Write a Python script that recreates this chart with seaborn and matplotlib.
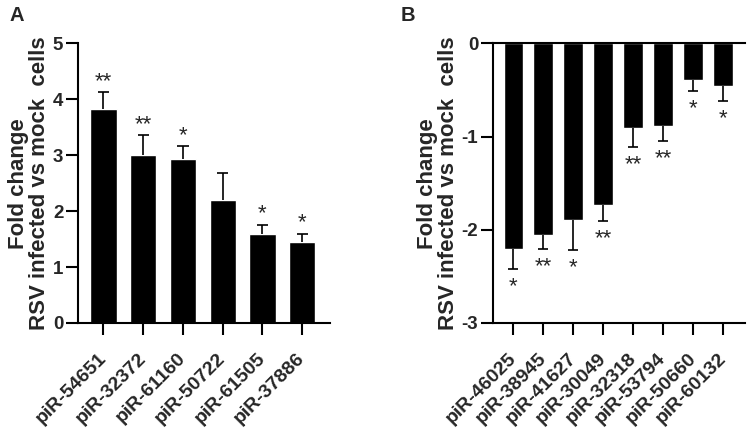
import numpy as np
import pandas as pd
import seaborn as sns
import matplotlib.pyplot as plt
from matplotlib.transforms import ScaledTranslation

# panel A: up-regulated piRNAs
up_names = ['piR-54651', 'piR-32372', 'piR-61160', 'piR-50722', 'piR-61505', 'piR-37886']
up_fc = [3.82, 3.00, 2.93, 2.20, 1.59, 1.44]
up_err = [0.31, 0.36, 0.24, 0.49, 0.17, 0.16]
up_sig = ['**', '**', '*', '', '*', '*']

# panel B: down-regulated piRNAs
down_names = ['piR-46025', 'piR-38945', 'piR-41627', 'piR-30049',
              'piR-32318', 'piR-53794', 'piR-50660', 'piR-60132']
down_fc = [-2.21, -2.06, -1.90, -1.73, -0.91, -0.89, -0.39, -0.46]
down_err = [0.21, 0.15, 0.32, 0.18, 0.20, 0.16, 0.12, 0.16]
down_sig = ['*', '**', '*', '**', '**', '**', '*', '*']

ylab = 'Fold change\nRSV infected vs mock  cells'

sns.set_style('ticks')
plt.rcParams['font.family'] = ['Liberation Sans', 'DejaVu Sans']
plt.rcParams['font.weight'] = 'bold'
plt.rcParams['axes.unicode_minus'] = False

fig = plt.figure(figsize=(7.47, 4.38), dpi=100)
axA = fig.add_axes([0.1044, 0.2626, 0.3374, 0.6384])
axB = fig.add_axes([0.66, 0.2626, 0.337, 0.6384])


def panel(ax, names, vals, errs, sigs, up, capw):
    df = pd.DataFrame({'name': names, 'fc': vals})
    sns.barplot(data=df, x='name', y='fc', color='black', width=0.66,
                errorbar=None, ax=ax, saturation=1)
    x = np.arange(len(names))
    v = np.array(vals)
    e = np.array(errs)
    ends = v + e if up else v - e
    # one-sided error bars (SEM)
    ax.vlines(x, v, ends, color='black', lw=1.2, zorder=3)
    ax.hlines(ends, x - capw, x + capw, color='black', lw=1.2, zorder=3)
    for xi, yi, s in zip(x, ends, sigs):
        if not s:
            continue
        if up:
            ax.annotate(s, (xi, yi), xytext=(0, 0), textcoords='offset points',
                        ha='center', va='bottom', fontsize=16, fontweight='normal')
        else:
            ax.annotate(s, (xi, yi), xytext=(0, -5), textcoords='offset points',
                        ha='center', va='top', fontsize=16, fontweight='normal')
    ax.set_xlabel('')
    ax.set_ylabel(ylab, fontsize=16, fontweight='bold', labelpad=2, linespacing=1.0)
    ax.set_xticks(x)
    ax.set_xticklabels(names, rotation=45, ha='right', va='center',
                       rotation_mode='anchor', fontsize=14, fontweight='bold')
    shift = ScaledTranslation(0.12, 0, fig.dpi_scale_trans)
    for lab in ax.get_xticklabels():
        lab.set_transform(lab.get_transform() + shift)
    for lab in ax.get_yticklabels():
        lab.set_fontweight('bold')
        lab.set_fontsize(13.5)
    ax.tick_params(axis='both', length=8.6, width=1.5, color='black')
    ax.tick_params(axis='x', pad=15)
    ax.tick_params(axis='y', pad=2)
    for sp in ax.spines.values():
        sp.set_linewidth(1.5)
        sp.set_color('black')


panel(axA, up_names, up_fc, up_err, up_sig, True, 0.14)
axA.set_ylim(0, 5)
axA.set_xlim(-0.64, 5.7)
sns.despine(ax=axA)

panel(axB, down_names, down_fc, down_err, down_sig, False, 0.17)
axB.set_ylim(-3, 0)
axB.set_yticks([0, -1, -2, -3])
axB.set_xlim(-0.68, 7.72)
sns.despine(ax=axB, top=False, right=True)
axB.tick_params(axis='x', top=False)

fig.text(0.013, 0.965, 'A', fontsize=14.5, fontweight='bold', va='center')
fig.text(0.536, 0.965, 'B', fontsize=14.5, fontweight='bold', va='center')

fig.savefig('out.png', dpi=100)
